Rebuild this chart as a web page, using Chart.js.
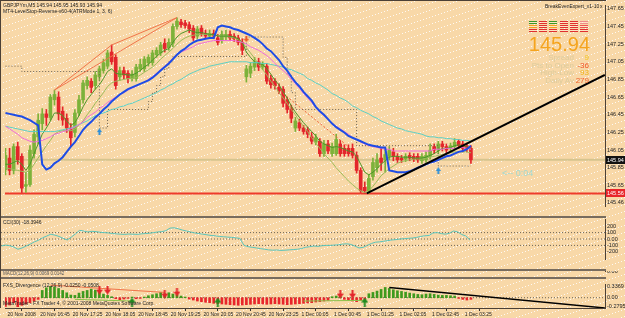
<!DOCTYPE html>
<html>
<head>
<meta charset="utf-8">
<script src="https://cdn.jsdelivr.net/npm/chart.js@4/dist/chart.umd.min.js"></script>
<style>
  body { margin: 0; background: #f8d8a8; }
  #wrap { position: relative; width: 625px; height: 318px; overflow: hidden; background-color: #f8d8a8; font-family: "Liberation Sans", Arial, sans-serif; }
  #wrap canvas { position: absolute; left: 0; }
  .t { position: absolute; white-space: nowrap; line-height: 1; }
  .sep { position: absolute; left: 0; width: 606px; height: 2px; background: #786c5e; }
  .cell { position: absolute; width: 8px; height: 3px; }
</style>
</head>
<body>
<div id="wrap">
  <canvas id="cMain" width="625" height="218" style="top:0"></canvas>
  <canvas id="cCci" width="625" height="52" style="top:218px"></canvas>
  <canvas id="cMacd" width="625" height="6" style="top:271px"></canvas>
  <canvas id="cFxs" width="625" height="39" style="top:279px"></canvas>
  <div class="sep" style="top:216px"></div>
  <div class="sep" style="top:269px"></div>
  <div class="sep" style="top:277px"></div>
  <div style="position:absolute;left:0;top:0;width:1px;height:308px;background:#4b4036"></div>
  <div style="position:absolute;left:0;top:0;width:606px;height:1px;background:#4b4036"></div>

  <div class="t" style="left:3px;top:3px;font-size:5px;color:#222">GBPJPYm,M5 145.94 145.95 145.93 145.94</div>
  <div class="t" style="left:3px;top:8.5px;font-size:5px;color:#222">MT4-LevelStop-Reverse-v60-4(ATRMode 1, 3, 6)</div>
  <div class="t" style="left:545px;top:3.5px;font-size:5px;color:#222">BreakEvenExpert_v1-10</div>
  <div class="t" style="left:600px;top:3.5px;font-size:5px;color:#222">x</div>
  <div id="grid"></div>
  <div class="t" style="right:35px;top:34px;font-size:20px;color:#f5a41e">145.94</div>
  <div class="t" style="right:51px;top:53.5px;font-size:8px;color:#dccb9c">Spread</div>
  <div class="t" style="right:36px;top:53.5px;font-size:8px;color:#f2c21a">9</div>
  <div class="t" style="right:51px;top:61.5px;font-size:8px;color:#dccb9c">Pts to Open</div>
  <div class="t" style="right:36px;top:61.5px;font-size:8px;color:#f0582a">-36</div>
  <div class="t" style="right:51px;top:68.5px;font-size:8px;color:#dccb9c">High-Low</div>
  <div class="t" style="right:36px;top:68.5px;font-size:8px;color:#f0b41a">93</div>
  <div class="t" style="right:51px;top:76.5px;font-size:8px;color:#dccb9c">Daily Av</div>
  <div class="t" style="right:36px;top:76.5px;font-size:8px;color:#f0602a">279</div>
  <div class="t" style="left:502px;top:168.5px;font-size:9px;color:#a2d8cf">&lt;-- 0:04</div>

  <div class="t" style="left:3px;top:220px;font-size:5px;color:#222">CCI(30) -18.3946</div>
  <div class="t" style="left:3px;top:271.5px;font-size:4.5px;color:#555">MACD(12,26,9) 0.0069 0.0142</div>
  <div class="t" style="left:3px;top:282.5px;font-size:5px;color:#222">FXS_Divergence (12,26,9) -0.0250 -0.0508</div>
  <div class="t" style="left:3px;top:301px;font-size:5px;color:#222">MetaTrader - FX Trader 4, © 2001-2008 MetaQuotes Software Corp.</div>
</div>
<script>
// ---- data (M5 GBPJPY bars) ----
const timeLabels = ['20 Nov 2008', '20 Nov 16:45', '20 Nov 17:25', '20 Nov 18:05', '20 Nov 18:45',
  '20 Nov 19:25', '20 Nov 20:05', '20 Nov 20:45', '20 Nov 23:25', '1 Dec 00:05', '1 Dec 00:45',
  '1 Dec 01:25', '1 Dec 02:05', '1 Dec 02:45', '1 Dec 03:25'];

const opens = [145.83,145.96,145.82,146.09,145.98,145.64,145.66,146.01,146.20,146.35,
  146.46,146.42,146.62,146.65,146.49,146.41,146.30,146.25,146.47,146.62,
  146.78,146.83,146.78,146.88,146.95,147.00,147.16,147.10,146.88,146.95,
  146.92,146.86,146.86,146.97,146.97,147.04,147.04,147.13,147.15,147.26,
  147.21,147.26,147.45,147.50,147.49,147.47,147.43,147.34,147.43,147.37,
  147.34,147.37,147.32,147.29,147.33,147.36,147.34,147.32,147.27,146.88,
  146.92,146.99,147.05,146.99,147.00,146.86,146.83,146.76,146.74,146.62,
  146.52,146.30,146.36,146.30,146.28,146.20,146.14,146.15,146.01,146.12,
  146.01,146.01,146.12,146.07,146.07,146.07,145.99,145.82,145.63,145.59,
  145.75,145.85,145.96,145.94,145.98,146.03,145.98,145.96,145.95,145.99,
  145.98,145.98,145.93,145.94,145.98,146.09,146.05,146.12,146.09,146.07,
  146.09,146.15,146.12,146.10,146.07];
const highs = [146.07,146.07,146.12,146.14,146.01,145.80,146.10,146.28,146.46,146.52,
  146.51,146.68,146.73,146.71,146.54,146.46,146.35,146.51,146.67,146.84,
  146.88,146.86,146.94,147.00,147.08,147.18,147.24,147.13,146.99,146.99,
  146.95,146.95,147.02,147.08,147.11,147.13,147.18,147.21,147.27,147.31,
  147.31,147.48,147.55,147.53,147.52,147.50,147.46,147.45,147.46,147.41,
  147.41,147.41,147.36,147.40,147.41,147.40,147.37,147.35,147.31,147.01,
  147.04,147.10,147.09,147.05,147.03,146.90,146.86,146.80,146.77,146.65,
  146.56,146.42,146.40,146.33,146.31,146.25,146.23,146.18,146.16,146.16,
  146.13,146.23,146.16,146.11,146.11,146.12,146.03,145.85,145.69,145.77,
  145.96,146.01,146.07,146.06,146.09,146.07,146.01,145.99,146.01,146.02,
  146.01,146.01,146.01,146.03,146.12,146.12,146.15,146.15,146.12,146.13,
  146.18,146.17,146.15,146.13,146.10];
const lows = [145.77,145.77,145.78,145.89,145.57,145.57,145.64,145.96,146.12,146.28,
  146.33,146.39,146.56,146.39,146.33,146.25,146.10,146.20,146.44,146.58,
  146.74,146.70,146.74,146.84,146.92,146.97,147.02,146.74,146.84,146.86,
  146.81,146.83,146.83,146.94,146.94,147.00,147.01,147.10,147.12,147.16,
  147.18,147.22,147.42,147.44,147.43,147.38,147.29,147.31,147.34,147.31,
  147.32,147.31,147.24,147.26,147.30,147.29,147.28,147.24,147.13,146.82,
  146.87,146.95,146.95,146.96,146.80,146.75,146.74,146.69,146.54,146.47,
  146.36,146.26,146.27,146.23,146.19,146.12,146.11,145.98,145.98,146.01,
  145.98,145.99,145.98,145.98,145.98,145.96,145.79,145.57,145.56,145.56,
  145.71,145.80,145.82,145.80,145.94,145.93,145.91,145.91,145.92,145.93,
  145.92,145.91,145.90,145.91,145.95,146.01,146.01,146.04,146.01,146.03,
  146.06,146.07,146.03,146.03,145.90];
const closes = [145.99,145.82,146.09,145.94,145.62,145.66,146.05,146.23,146.39,146.46,
  146.42,146.65,146.68,146.46,146.39,146.30,146.19,146.47,146.62,146.81,
  146.84,146.76,146.90,146.97,147.04,147.15,147.05,146.78,146.95,146.90,
  146.86,146.91,146.99,147.02,147.08,147.10,147.15,147.18,147.24,147.20,
  147.27,147.45,147.51,147.47,147.46,147.42,147.32,147.42,147.37,147.34,
  147.37,147.34,147.27,147.36,147.36,147.32,147.31,147.27,147.18,146.97,
  147.00,147.05,146.99,147.02,146.83,146.79,146.78,146.72,146.58,146.51,
  146.41,146.38,146.30,146.26,146.23,146.15,146.19,146.01,146.12,146.04,
  146.09,146.17,146.01,146.01,146.01,145.99,145.82,145.59,145.59,145.73,
  145.91,145.94,145.91,146.00,146.05,145.98,145.94,145.94,145.98,145.96,
  145.95,145.94,145.98,145.99,146.05,146.05,146.12,146.09,146.05,146.10,
  146.14,146.10,146.07,146.07,145.94];

// moving averages / stop line on the price chart
const maBlue = [146.47,146.46,146.45,146.44,146.43,146.41,146.39,146.36,146.33,145.89,
  145.83,145.85,145.90,145.93,145.97,146.03,146.09,146.14,146.21,146.28,
  146.33,146.37,146.42,146.46,146.51,146.55,146.60,146.64,146.68,146.71,
  146.74,146.76,146.78,146.80,146.82,146.84,146.87,146.91,146.95,146.99,
  147.03,147.08,147.13,147.17,147.20,147.24,147.27,147.29,147.30,147.31,
  147.32,147.32,147.44,147.46,147.45,147.44,147.42,147.41,147.39,147.37,
  147.35,147.32,147.29,147.25,147.20,147.17,147.12,147.07,147.00,146.95,
  146.88,146.82,146.77,146.71,146.66,146.61,146.54,146.49,146.45,146.40,
  146.35,146.31,146.28,146.25,146.21,146.19,146.17,146.15,146.13,146.11,
  146.10,146.09,146.08,146.08,145.82,145.81,145.80,145.80,145.80,145.81,
  145.83,145.85,145.87,145.89,145.91,145.92,145.94,145.96,145.98,145.99,
  146.01,146.03,146.04,146.06,146.10];
const maPink = [146.32,146.29,146.26,146.23,146.19,146.17,146.15,146.14,146.15,146.16,
  146.18,146.20,146.23,146.24,146.26,146.27,146.29,146.31,146.34,146.37,
  146.42,146.45,146.48,146.52,146.55,146.59,146.62,146.65,146.68,146.70,
  146.73,146.75,146.77,146.80,146.82,146.85,146.88,146.92,146.96,147.00,
  147.04,147.09,147.13,147.16,147.18,147.20,147.22,147.25,147.26,147.27,
  147.28,147.29,147.29,147.29,147.29,147.29,147.29,147.28,147.27,147.25,
  147.22,147.20,147.18,147.15,147.12,147.08,147.03,146.99,146.95,146.91,
  146.85,146.80,146.75,146.69,146.64,146.59,146.53,146.48,146.44,146.40,
  146.35,146.32,146.29,146.26,146.23,146.19,146.17,146.14,146.12,146.10,
  146.09,146.08,146.07,146.06,146.06,146.04,146.04,146.04,146.04,146.04,
  146.04,146.04,146.04,146.04,146.04,146.06,146.06,146.06,146.07,146.07,
  146.07,146.08,146.08,146.07,146.06];
const maCyan = [146.32,146.31,146.30,146.29,146.28,146.27,146.26,146.26,146.26,146.26,
  146.26,146.26,146.26,146.27,146.28,146.29,146.30,146.32,146.34,146.36,
  146.38,146.41,146.44,146.46,146.47,146.49,146.51,146.52,146.54,146.55,
  146.57,146.58,146.60,146.62,146.64,146.66,146.68,146.70,146.73,146.75,
  146.78,146.80,146.83,146.85,146.88,146.91,146.93,146.95,146.97,146.98,
  147.00,147.01,147.02,147.03,147.04,147.05,147.05,147.05,147.05,147.05,
  147.04,147.04,147.04,147.03,147.03,147.02,147.01,147.00,146.99,146.97,
  146.96,146.94,146.92,146.90,146.86,146.84,146.81,146.79,146.76,146.73,
  146.69,146.67,146.64,146.62,146.59,146.55,146.53,146.50,146.48,146.46,
  146.43,146.41,146.38,146.36,146.34,146.32,146.30,146.29,146.27,146.26,
  146.25,146.24,146.23,146.21,146.20,146.20,146.19,146.19,146.18,146.18,
  146.17,146.17,146.16,146.16,146.15];
const maGreen = [145.89,145.89,145.91,145.93,145.89,145.82,145.89,146.01,146.12,146.23,
  146.30,146.38,146.47,146.47,146.44,146.38,146.33,146.36,146.44,146.54,
  146.62,146.68,146.74,146.79,146.86,146.94,146.97,146.92,146.91,146.91,
  146.90,146.90,146.92,146.95,146.99,147.02,147.07,147.11,147.15,147.18,
  147.20,147.27,147.33,147.37,147.39,147.41,147.39,147.38,147.38,147.37,
  147.36,147.36,147.34,147.34,147.34,147.34,147.33,147.31,147.27,147.16,
  147.10,147.05,147.03,147.02,146.97,146.91,146.84,146.79,146.71,146.64,
  146.55,146.48,146.42,146.36,146.31,146.26,146.21,146.15,146.12,146.10,
  146.08,146.09,146.08,146.06,146.04,146.03,145.98,145.89,145.80,145.77,
  145.80,145.84,145.89,145.93,145.97,145.98,145.98,145.97,145.97,145.97,
  145.96,145.96,145.96,145.97,145.99,146.01,146.04,146.07,146.07,146.08,
  146.10,146.11,146.10,146.09,146.06];
const maOlive = [145.85,145.84,145.83,145.82,145.81,145.80,145.82,145.89,145.96,146.03,
  146.10,146.16,146.23,146.26,146.27,146.27,146.27,146.29,146.33,146.38,
  146.45,146.51,146.58,146.64,146.70,146.77,146.81,146.83,146.84,146.85,
  146.86,146.86,146.87,146.90,146.93,146.96,146.99,147.03,147.08,147.12,
  147.16,147.20,147.25,147.29,147.32,147.34,147.35,147.36,147.36,147.36,
  147.36,147.35,147.35,147.34,147.34,147.33,147.32,147.30,147.27,147.21,
  147.15,147.09,147.02,146.96,146.90,146.83,146.77,146.70,146.64,146.58,
  146.51,146.45,146.38,146.32,146.26,146.19,146.13,146.07,146.01,145.96,
  145.91,145.85,145.80,145.75,145.70,145.66,145.62,145.59,145.57,145.59,
  145.64,145.70,145.76,145.80,145.84,145.87,145.90,145.92,145.93,145.94,
  145.95,145.95,145.95,145.96,145.97,145.98,145.99,146.00,146.01,146.02,
  146.03,146.03,146.03,146.03,146.02];
const stopLine = [147.00,147.00,147.00,147.00,146.94,146.94,146.94,146.94,146.94,146.94,
  146.94,146.94,146.94,146.94,146.94,146.94,146.94,146.94,146.94,146.94,
  146.94,146.94,146.94,146.30,146.30,146.51,146.51,146.51,146.51,146.51,
  146.51,146.51,146.51,146.51,146.51,146.60,146.70,146.78,146.88,146.97,
  147.05,147.11,147.11,147.11,147.11,147.11,147.11,147.11,147.11,147.11,
  147.11,147.11,147.11,147.11,147.11,147.11,147.11,147.11,147.11,147.33,
  147.33,147.33,147.33,147.33,147.33,147.33,147.33,147.33,147.10,146.90,
  146.70,146.51,146.51,146.51,146.51,146.51,146.51,146.51,146.51,146.51,
  146.51,146.51,146.51,146.51,146.51,146.51,146.10,146.10,146.10,146.10,
  146.10,146.10,146.10,146.10,146.10,146.10,146.10,146.10,146.10,146.10,
  146.10,146.10,146.10,146.10,146.10,146.10,145.87,145.87,145.87,145.87,
  145.87,145.87,145.87,145.87,145.87];

const bidPrice = 145.94;
const levelPrice = 145.56;
const priceTicks = [147.65, 147.45, 147.25, 147.05, 146.85, 146.65, 146.45, 146.25, 146.05, 145.85, 145.65, 145.46];
const trendBars = [88.5, 146.8];
const trendPrices = [145.56, 146.90];
const fractalBars = [12, 26, 42];
const fractalPrices = [146.73, 147.24, 147.55];
const downTrendBars = [68, 84];
const downTrendPrices = [146.69, 146.09];
const buyBars = [23, 106];
const buyPrices = [146.26, 145.82];
const sellBars = [59];
const sellPrices = [147.31];

// CCI(30)
const cci = [-110,-95,-105,-125,-160,-140,-110,-80,-45,-20,
  20,45,75,60,40,10,-15,30,80,135,
  125,110,120,115,105,100,95,85,80,75,
  72,78,75,72,80,85,90,100,110,115,
  130,170,175,160,140,125,110,95,85,75,
  65,55,50,40,35,30,25,18,10,-100,
  -120,-130,-140,-150,-160,-170,-175,-172,-178,-175,
  -170,-165,-160,-150,-130,-120,-110,-115,-105,-100,
  -100,-95,-90,-80,-75,-85,-110,-140,-130,-100,
  -70,-50,-45,-35,-25,-15,-10,0,5,10,
  15,25,40,50,55,95,100,85,75,90,
  125,110,70,45,-18];
const cciLevels = [100, 0, -100];
const cciTicks = [200, 100, 0, -100, -200];

// MACD strip
const macdHist = [-1,1,-1,1,-1,-1,1,-1,1,2,
  2,2,2,2,2,2,1,1,2,2,
  2,2,2,2,1,1,1,-1,-1,1,
  -1,1,-1,-1,1,1,2,2,2,2,
  2,2,1,1,1,-1,-1,-2,-2,-2,
  -2,-2,-2,-2,-2,-2,-2,-2,-2,-2,
  -2,-2,-2,-2,-2,-2,-2,-2,-2,-2,
  -2,-2,-2,-2,-1,-2,-1,-1,1,-1,
  1,1,-1,-1,1,-1,-1,-2,-1,1,
  1,2,2,2,2,2,2,2,2,2,
  1,1,1,1,1,1,1,1,1,1,
  1,-1,-1,-1,-1];

// FXS_Divergence histogram
const fxsHist = [-0.26,-0.22,-0.15,-0.27,-0.23,-0.19,-0.15,-0.10,-0.05,
  0.22,0.30,0.34,0.32,0.28,0.22,0.15,0.08,
  0.07,0.14,0.19,0.22,0.26,0.23,0.16,0.11,0.07,0.03,
  -0.03,-0.06,-0.04,-0.02,0.02,-0.03,-0.02,0.02,
  0.06,0.09,0.12,0.16,0.12,0.15,0.11,0.09,0.05,0.02,
  -0.04,-0.07,-0.10,-0.12,-0.14,-0.15,-0.17,-0.18,-0.19,-0.20,-0.21,-0.22,-0.23,-0.22,
  -0.21,-0.20,-0.19,-0.18,-0.19,-0.20,-0.19,-0.18,-0.19,-0.20,-0.21,-0.20,-0.19,-0.18,
  -0.17,-0.16,-0.15,-0.13,-0.12,-0.10,-0.08,0.03,0.05,0.04,-0.05,-0.08,-0.10,-0.12,-0.09,-0.05,
  0.12,0.16,0.20,0.25,0.31,0.28,0.24,0.21,0.19,0.17,0.14,0.12,0.10,0.09,0.11,0.12,0.10,0.08,0.07,0.07,0.06,0.05,
  -0.02,-0.05,-0.07,-0.05];
const fxsTicks = [0.3369, 0, -0.2795];
const fxsSellBars = [23, 25, 39, 42, 82, 85];
const fxsSellVals = [0.23, 0.23, 0.11, 0.17, 0.11, 0.11];
const fxsBuyBars = [31, 52, 88];
const fxsBuyVals = [-0.13, -0.13, -0.13];
const fxsTrendBars = [94, 146.8];
const fxsTrendVals = [0.31, -0.31];
const fxsTopBars = [11, 39];
const fxsTopVals = [0.38, 0.16];
const fxsLowBars = [17, 31, 73, 88];
const fxsLowVals = [-0.05, -0.10, -0.10, -0.08];

// signal grid of the BreakEvenExpert panel
const signalRows = [
  ['#3a9a2a', '#e03030', '#3a9a2a', '#e03030', '#e03030', '#f08a8a'],
  ['#f0a020', '#e03030', '#f0a020', '#e03030', '#e03030', '#ec5050'],
  ['#e03030', '#e03030', '#e03030', '#e03030', '#e03030', '#e03030']
];

// ---- layout ----
const X_MIN = -0.12, X_MAX = 146.84;
const UP = '#7db23a', DOWN = '#e3262b';
const FONT = 'Liberation Sans';

// dithering dots of the original screenshot background
(function () {
  const c = document.createElement('canvas');
  c.width = 21; c.height = 7;
  const g = c.getContext('2d');
  g.fillStyle = 'rgba(255,255,255,0.85)';
  for (let k = 0; k < 7; k++) g.fillRect(k * 3, 6 - k, 1, 1);
  document.getElementById('wrap').style.backgroundImage = 'url(' + c.toDataURL() + ')';
})();

const grid = document.getElementById('grid');
signalRows.forEach((row, r) => row.forEach((c, k) => {
  const d = document.createElement('div');
  d.className = 'cell';
  d.style.left = (529 + k * 10.2) + 'px';
  d.style.top = (21 + r * 4) + 'px';
  d.style.background = 'linear-gradient(' + c + ' 0 1px, rgba(255,240,220,0.5) 1px 2px, ' + c + ' 2px 3px)';
  grid.appendChild(d);
}));

const pts = arr => arr.map((v, i) => ({ x: i, y: v }));
const pairs = (xsArr, ysArr) => xsArr.map((x, i) => ({ x: x, y: ysArr[i] }));
const flat = v => [{ x: X_MIN, y: v }, { x: X_MAX, y: v }];

function arrowImg(color, down, w, h) {
  const c = document.createElement('canvas');
  c.width = w; c.height = h;
  const g = c.getContext('2d');
  g.fillStyle = color;
  g.beginPath();
  const hh = Math.round(h * 0.5), sw = Math.max(1, Math.round(w / 3));
  const sx = (w - sw) / 2;
  if (!down) {
    g.moveTo(w / 2, 0); g.lineTo(w, hh); g.lineTo(sx + sw, hh); g.lineTo(sx + sw, h);
    g.lineTo(sx, h); g.lineTo(sx, hh); g.lineTo(0, hh);
  } else {
    g.moveTo(w / 2, h); g.lineTo(w, h - hh); g.lineTo(sx + sw, h - hh); g.lineTo(sx + sw, 0);
    g.lineTo(sx, 0); g.lineTo(sx, h - hh); g.lineTo(0, h - hh);
  }
  g.closePath();
  g.fill();
  return c;
}

function xAxis(show) {
  return {
    type: 'linear', min: X_MIN, max: X_MAX, offset: false, display: show,
    afterFit: s => { s.height = 10; s.paddingLeft = 0; s.paddingRight = 0; },
    afterBuildTicks: s => { s.ticks = timeLabels.map((_, k) => ({ value: k * 8 })); },
    ticks: {
      autoSkip: false, maxRotation: 0, minRotation: 0, align: 'start', padding: 1, labelOffset: 2,
      font: { size: 5, family: FONT }, color: '#222',
      callback: v => timeLabels[Math.round(v / 8)]
    },
    grid: { display: true, drawOnChartArea: false, tickLength: 3, color: '#333' },
    border: { display: true, color: '#4b4036' }
  };
}

function yAxis(min, max, ticks, fmt) {
  return {
    position: 'right', min: min, max: max,
    afterFit: s => { s.width = 20; s.paddingTop = 0; s.paddingBottom = 0; },
    afterBuildTicks: s => { s.ticks = ticks.map(v => ({ value: v })); },
    ticks: { autoSkip: false, padding: 2, font: { size: 5.5, family: FONT }, color: '#222', callback: fmt },
    grid: { display: false, drawTicks: false },
    border: { display: true, color: '#4b4036', width: 1 }
  };
}

const base = (padTop, padBottom) => ({
  responsive: false, animation: false, events: [],
  layout: { padding: { left: 1, right: 0, top: padTop, bottom: padBottom } },
  plugins: { legend: { display: false }, tooltip: { enabled: false } }
});

const line = (data, color, width, order, extra) => Object.assign({
  type: 'line', data: data, borderColor: color, borderWidth: width, pointRadius: 0,
  fill: false, tension: 0, order: order
}, extra || {});

const marks = (data, img, order) => ({
  type: 'line', data: data, showLine: false, pointStyle: img, pointRadius: 4, order: order
});

const tagPlugin = {
  id: 'tags',
  afterDraw(chart) {
    const { ctx, chartArea } = chart;
    const y = chart.scales.y;
    [[bidPrice, '#111', '#fff'], [levelPrice, '#e8262b', '#fff']].forEach(([v, bg, fg]) => {
      const py = Math.round(y.getPixelForValue(v));
      ctx.fillStyle = bg;
      ctx.fillRect(chartArea.right + 1, py - 4, 19, 8);
      ctx.fillStyle = fg;
      ctx.font = '5.5px "' + FONT + '"';
      ctx.textBaseline = 'middle';
      ctx.textAlign = 'left';
      ctx.fillText(v.toFixed(2), chartArea.right + 2, py);
    });
  }
};

const colorOf = i => closes[i] >= opens[i] ? UP : DOWN;
const idx = opens.map((_, i) => i);

// ---- price chart ----
new Chart(document.getElementById('cMain'), {
  type: 'bar',
  data: {
    datasets: [
      line(pairs(trendBars, trendPrices), '#000', 2, 0),
      marks(pairs(buyBars, buyPrices), arrowImg('#2f8fd8', false, 5, 7), 0),
      marks(pairs(sellBars, sellPrices), arrowImg('#f05a28', true, 6, 6), 0),
      line(pts(maBlue), '#1e4de6', 2, 1),
      line(pts(maPink), '#f06ad8', 1, 2),
      line(pts(maCyan), '#5ccfc4', 1, 3),
      line(pts(maGreen), '#4c9628', 1, 4),
      line(pts(maOlive), '#9cbb5a', 1, 5),
      line(pts(stopLine), '#6b6150', 1, 6, { stepped: 'before', borderDash: [1, 2] }),
      line(pairs(fractalBars, fractalPrices), '#f0744a', 1, 6),
      line(pairs([fractalBars[0], fractalBars[2]], [fractalPrices[0], fractalPrices[2]]), '#f0744a', 1, 6),
      line(pairs(downTrendBars, downTrendPrices), '#f0603a', 1, 6, { borderDash: [2, 2] }),
      {
        label: 'body', data: idx.map(i => ({ x: i, y: [opens[i], closes[i]] })),
        backgroundColor: idx.map(colorOf), barThickness: 3, grouped: false, order: 19
      },
      {
        label: 'wick', data: idx.map(i => ({ x: i, y: [lows[i], highs[i]] })),
        backgroundColor: idx.map(colorOf), barThickness: 1, grouped: false, order: 20
      },
      line(flat(bidPrice), '#d6c48e', 2, 25),
      line(flat(levelPrice), '#ee3b2b', 2, 25)
    ]
  },
  options: Object.assign(base(2, 2), {
    scales: {
      x: xAxis(false),
      y: yAxis(145.4175, 147.6925, priceTicks, v => v.toFixed(2))
    }
  }),
  plugins: [tagPlugin]
});

// ---- CCI ----
new Chart(document.getElementById('cCci'), {
  type: 'line',
  data: {
    datasets: cciLevels.map(v => line(flat(v), '#6e6658', 1, 5, { borderDash: [1, 2] }))
      .concat([line(pts(cci), '#58c4bb', 1, 1)])
  },
  options: Object.assign(base(1, 1), {
    scales: {
      x: xAxis(false),
      y: yAxis(-312.5, 312.5, cciTicks, v => (v === 0 ? '0.00' : String(v)))
    }
  })
});

// ---- MACD strip ----
new Chart(document.getElementById('cMacd'), {
  type: 'bar',
  data: {
    datasets: [
      line(flat(0), '#6e6658', 1, 5, { borderDash: [1, 2] }),
      {
        data: pts(macdHist), backgroundColor: macdHist.map(v => (v > 0 ? '#3ea020' : '#e3262b')),
        barThickness: 2, grouped: false, order: 1
      }
    ]
  },
  options: Object.assign(base(0, 0), {
    scales: {
      x: xAxis(false),
      y: yAxis(-3, 3, [0], () => '0.00')
    }
  })
});

// ---- FXS_Divergence ----
new Chart(document.getElementById('cFxs'), {
  type: 'bar',
  data: {
    datasets: [
      line(pairs(fxsTrendBars, fxsTrendVals), '#000', 1.5, 0),
      marks(pairs(fxsSellBars, fxsSellVals), arrowImg('#e3262b', true, 7, 9), 0),
      marks(pairs(fxsBuyBars, fxsBuyVals), arrowImg('#1f8a1f', false, 7, 9), 0),
      line(pairs(fxsTopBars, fxsTopVals), '#f0744a', 1, 2),
      line(pairs(fxsLowBars.slice(0, 2), fxsLowVals.slice(0, 2)), '#8ac24a', 1, 2),
      line(pairs(fxsLowBars.slice(2), fxsLowVals.slice(2)), '#8ac24a', 1, 2),
      line(flat(0), '#6e6658', 1, 8, { borderDash: [1, 2] }),
      {
        data: pts(fxsHist), backgroundColor: fxsHist.map(v => (v > 0 ? '#3e9a1e' : '#e8262b')),
        barThickness: 2, grouped: false, order: 5
      }
    ]
  },
  options: Object.assign(base(1, 0), {
    scales: {
      x: xAxis(true),
      y: yAxis(-0.311, 0.4145, fxsTicks, v => (v === 0 ? '0.00' : String(v)))
    }
  })
});
</script>
</body>
</html>
